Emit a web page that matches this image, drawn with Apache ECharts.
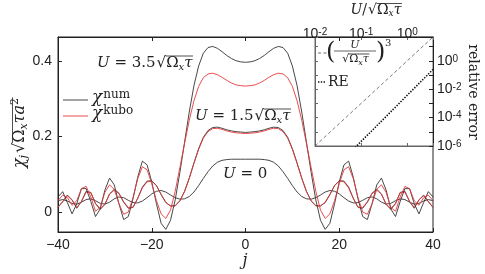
<!DOCTYPE html>
<html><head><meta charset="utf-8">
<script src="https://cdn.jsdelivr.net/npm/echarts@6/dist/echarts.min.js"></script>
<style>html,body{margin:0;padding:0;background:#fff}#c{width:485px;height:274px}</style>
</head><body><div id="c"></div>
<script>
// ---------------- data ----------------
const jValues = [];
for (let j = -40; j <= 40; j++) jValues.push(j);

const chiNumU35 = [0.040,0.054,0.025,-0.005,0.022,0.062,0.062,0.028,-0.012,0.008,
  0.058,0.090,0.072,0.022,-0.020,-0.012,0.035,0.092,0.135,0.125,
  0.080,0.022,-0.030,-0.046,-0.022,0.032,0.105,0.185,0.265,0.335,
  0.387,0.421,0.436,0.439,0.434,0.425,0.415,0.407,0.401,0.398,0.397,
  0.398,0.401,0.407,0.415,0.425,0.434,0.439,0.436,0.421,0.387,
  0.335,0.265,0.185,0.105,0.032,-0.022,-0.046,-0.030,0.022,0.080,
  0.125,0.135,0.092,0.035,-0.012,-0.020,0.022,0.072,0.090,0.058,
  0.008,-0.012,0.028,0.062,0.062,0.022,-0.005,0.025,0.054,0.040];

const chiKuboU35 = [0.030,0.045,0.038,0.018,0.030,0.062,0.068,0.040,0.002,0.012,
  0.052,0.072,0.060,0.022,-0.006,0.000,0.038,0.088,0.120,0.112,
  0.075,0.030,-0.005,-0.017,0.005,0.055,0.118,0.182,0.243,0.295,
  0.333,0.356,0.366,0.368,0.364,0.357,0.349,0.342,0.337,0.335,0.334,
  0.335,0.337,0.342,0.349,0.357,0.364,0.368,0.366,0.356,0.333,
  0.295,0.243,0.182,0.118,0.055,0.005,-0.017,-0.005,0.030,0.075,
  0.112,0.120,0.088,0.038,0.000,-0.006,0.022,0.060,0.072,0.052,
  0.012,0.002,0.040,0.068,0.062,0.030,0.018,0.038,0.045,0.030];

const chiNumU15 = [0.012,0.028,0.045,0.032,0.010,0.028,0.055,0.052,0.022,0.007,
  0.020,0.048,0.060,0.050,0.026,0.010,0.012,0.036,0.066,0.082,
  0.083,0.070,0.046,0.025,0.016,0.017,0.030,0.055,0.090,0.130,
  0.168,0.198,0.216,0.224,0.225,0.222,0.218,0.215,0.213,0.212,0.211,
  0.212,0.213,0.215,0.218,0.222,0.225,0.224,0.216,0.198,0.168,
  0.130,0.090,0.055,0.030,0.017,0.016,0.025,0.046,0.070,0.083,
  0.082,0.066,0.036,0.012,0.010,0.026,0.050,0.060,0.048,0.020,
  0.007,0.022,0.052,0.055,0.028,0.010,0.032,0.045,0.028,0.012];

const chiKuboU15 = [0.013,0.027,0.043,0.032,0.012,0.028,0.053,0.051,0.023,0.009,
  0.021,0.047,0.058,0.049,0.027,0.012,0.013,0.036,0.064,0.080,
  0.082,0.070,0.047,0.026,0.016,0.016,0.029,0.054,0.089,0.129,
  0.166,0.196,0.213,0.221,0.222,0.219,0.215,0.212,0.210,0.209,0.208,
  0.209,0.210,0.212,0.215,0.219,0.222,0.221,0.213,0.196,0.166,
  0.129,0.089,0.054,0.029,0.016,0.016,0.026,0.047,0.070,0.082,
  0.080,0.064,0.036,0.013,0.012,0.027,0.049,0.058,0.047,0.021,
  0.009,0.023,0.051,0.053,0.028,0.012,0.032,0.043,0.027,0.013];

const chiNumU0 = [0.030,0.033,0.029,0.023,0.021,0.026,0.033,0.035,0.030,0.023,
  0.021,0.026,0.035,0.040,0.038,0.031,0.025,0.024,0.029,0.038,
  0.048,0.055,0.057,0.053,0.045,0.038,0.034,0.035,0.041,0.053,
  0.070,0.089,0.107,0.122,0.132,0.137,0.139,0.140,0.140,0.140,0.140,
  0.140,0.140,0.140,0.139,0.137,0.132,0.122,0.107,0.089,0.070,
  0.053,0.041,0.035,0.034,0.038,0.045,0.053,0.057,0.055,0.048,
  0.038,0.029,0.024,0.025,0.031,0.038,0.040,0.035,0.026,0.021,
  0.023,0.030,0.035,0.033,0.026,0.021,0.023,0.029,0.033,0.030];

// inset: relative error vs U/sqrt(Omega_x tau)
const cubeU   = [0.01, 0.03, 0.1, 0.3, 1, 3.6];
const cubeVal = [1e-6, 2.7e-5, 1e-3, 2.7e-2, 1, 46.7];
const reU     = [0.05, 0.1, 0.2, 0.5, 1, 2, 3.6];
const reVal   = [2.1e-7, 2.1e-6, 2.0e-5, 3.9e-4, 3.8e-3, 0.036, 0.245];

const xTickValues = [-40, -20, 0, 20, 40];
const xTickLabels = ['\u221240', '\u221220', '0', '20', '40'];
const yTickLabels = ['0', '0.2', '0.4'];
const legendNames = ['num', 'kubo'];

// ---------------- helpers ----------------
const SERIF = '"DejaVu Serif", serif';
const SANS = '"Liberation Sans", sans-serif';
const INK = '#222';
const BLACK = '#333333';
const RED = '#e5393b';
const cvs = document.createElement('canvas').getContext('2d');
function measure(t, f) { cvs.font = f; return cvs.measureText(t).width; }

function txt(x, y, t, font) {
  return {type: 'text', x: x, y: y, silent: true,
    style: {text: t, font: font, fill: INK, align: 'left', verticalAlign: 'middle',
            textAlign: 'left', textVerticalAlign: 'middle'}};
}

function mathGroup(pieces, opt) {
  let cx = 0; const kids = []; let o0 = null, o1 = 0;
  for (const p of pieces) {
    cx += p.pre || 0;
    const f = (p.it ? 'italic ' : '') + p.s + 'px ' + SERIF;
    const w = measure(p.t, f);
    kids.push(txt(cx, p.dy || 0, p.t, f));
    if (p.ov) { if (o0 === null) o0 = cx; o1 = cx + w; }
    cx += w + (p.post || 0);
  }
  if (o0 !== null) kids.push({type: 'line',
    shape: {x1: o0 - 0.5, y1: opt.ovY, x2: o1 + 0.5, y2: opt.ovY},
    style: {stroke: INK, lineWidth: 0.8}});
  const off = opt.align === 'center' ? -cx / 2 : 0;
  kids.forEach(k => { if (k.type === 'text') k.x += off; else { k.shape.x1 += off; k.shape.x2 += off; } });
  return {type: 'group', x: opt.x, y: opt.y, rotation: opt.rotation || 0, children: kids, silent: true};
}

function sqrtPieces(s, sub) {
  return [
    {t: '\u221A', s: s, pre: 1},
    {t: '\u03A9', s: s, ov: true},
    {t: 'x', s: sub, it: true, dy: 4, ov: true},
    {t: '\u03C4', s: s, it: true, ov: true}
  ];
}

function supLabel(v) {
  const e = Math.round(Math.log10(v));
  if (Math.abs(Math.log10(v) - e) > 1e-6) return '';
  return '{b|10}{s|' + (e < 0 ? '-' + (-e) : e) + '}';
}

// ---------------- series ----------------
function pairs(ys) { return jValues.map((j, i) => [j, ys[i]]); }
function lineSeries(name, ys, color) {
  return {name: name, type: 'line', xAxisIndex: 0, yAxisIndex: 0, data: pairs(ys),
    symbol: 'none', showSymbol: false, smooth: false, animation: false,
    lineStyle: {color: color, width: 0.9}, itemStyle: {color: color}};
}

const series = [
  lineSeries('num', chiNumU0, BLACK),
  lineSeries('num', chiNumU15, BLACK),
  lineSeries('kubo', chiKuboU15, RED),
  lineSeries('num', chiNumU35, BLACK),
  lineSeries('kubo', chiKuboU35, RED),
  {name: 'cube', type: 'line', xAxisIndex: 2, yAxisIndex: 1,
   data: cubeU.map((u, i) => [u, cubeVal[i]]), symbol: 'none', animation: false,
   lineStyle: {color: '#444', width: 0.7, type: [3.5, 2.5]}},
  {name: 'RE', type: 'line', xAxisIndex: 2, yAxisIndex: 1,
   data: reU.map((u, i) => [u, reVal[i]]), symbol: 'none', animation: false,
   lineStyle: {color: '#111', width: 1.6, type: [1.4, 1.4]}}
];

// ---------------- graphics (annotations, legends) ----------------
const graphics = [
  mathGroup([{t: 'U', s: 15, it: true}, {t: ' = 3.5', s: 15}].concat(sqrtPieces(15, 10)),
    {x: 97, y: 63, ovY: -7}),
  mathGroup([{t: 'U', s: 15, it: true}, {t: ' = 1.5', s: 15}].concat(sqrtPieces(15, 10)),
    {x: 195, y: 116, ovY: -7}),
  mathGroup([{t: 'U', s: 15, it: true}, {t: ' = 0', s: 15}], {x: 223, y: 174}),
  // main legend
  {type: 'line', shape: {x1: 63, y1: 100, x2: 88, y2: 100}, style: {stroke: BLACK, lineWidth: 0.9}},
  mathGroup([{t: '\u03C7', s: 17, it: true, dy: -2}, {t: legendNames[0], s: 12, dy: -5, pre: 1}], {x: 92, y: 100}),
  {type: 'line', shape: {x1: 63, y1: 116, x2: 88, y2: 116}, style: {stroke: RED, lineWidth: 0.9}},
  mathGroup([{t: '\u03C7', s: 17, it: true, dy: -2}, {t: legendNames[1], s: 12, dy: -5, pre: 1}], {x: 92, y: 116}),
  // y-axis name
  mathGroup([{t: '\u03C7', s: 16, it: true}, {t: 'j', s: 11, it: true, dy: 4, post: 1},
             {t: '\u221A', s: 16, pre: 1}, {t: '\u03A9', s: 16, ov: true},
             {t: 'x', s: 11, it: true, dy: 4, ov: true}, {t: '\u03C4', s: 16, it: true, ov: true},
             {t: 'a', s: 16, it: true, ov: true}, {t: '2', s: 11, dy: -5, ov: true}],
    {x: 20, y: 133, align: 'center', rotation: Math.PI / 2, ovY: -7.5}),
  // x-axis name
  mathGroup([{t: 'j', s: 16, it: true}], {x: 245, y: 261, align: 'center'}),
  // inset top axis name
  mathGroup([{t: 'U', s: 14, it: true}, {t: '/', s: 14}].concat(sqrtPieces(14, 9)),
    {x: 376, y: 10, align: 'center', ovY: -6.5}),
  // inset right axis name
  mathGroup([{t: 'relative error', s: 14}], {x: 473, y: 92, align: 'center', rotation: -Math.PI / 2}),
  // inset legend: dashed sample + fraction
  {type: 'line', shape: {x1: 318, y1: 53, x2: 327, y2: 53}, style: {stroke: '#444', lineWidth: 0.8, lineDash: [3, 2.5]}},
  txt(326, 53, '(', '24px ' + SERIF),
  txt(376, 53, ')', '24px ' + SERIF),
  txt(385, 43, '3', '10px ' + SERIF),
  mathGroup([{t: 'U', s: 11, it: true}], {x: 355, y: 45, align: 'center'}),
  {type: 'line', shape: {x1: 334, y1: 51, x2: 376, y2: 51}, style: {stroke: INK, lineWidth: 0.7}},
  mathGroup(sqrtPieces(11, 8), {x: 355, y: 59, align: 'center', ovY: -5}),
  // inset legend: dotted sample + RE
  {type: 'line', shape: {x1: 318, y1: 82, x2: 326, y2: 82}, style: {stroke: '#111', lineWidth: 1.6, lineDash: [1.4, 1.4]}},
  mathGroup([{t: 'RE', s: 14}], {x: 328, y: 82})
];

// ---------------- chart ----------------
const chart = echarts.init(document.getElementById('c'), null, {renderer: 'canvas'});
const axisLineStyle = {color: INK, width: 1};
const supRich = {
  b: {fontFamily: SANS, fontSize: 14, color: INK, lineHeight: 14},
  s: {fontFamily: SANS, fontSize: 10, color: INK, verticalAlign: 'top', lineHeight: 14}
};
chart.setOption({
  animation: false,
  backgroundColor: '#fff',
  grid: [
    {left: 58, right: 52, top: 37, bottom: 42, show: true, borderColor: INK, borderWidth: 1},
    {left: 315, right: 52, top: 37, bottom: 128, show: true, borderColor: '#666', borderWidth: 1, backgroundColor: '#fff'}
  ],
  xAxis: [
    {gridIndex: 0, type: 'value', min: -40, max: 40, interval: 20, position: 'bottom',
     axisLine: {show: true, onZero: false, lineStyle: axisLineStyle}, splitLine: {show: false},
     axisTick: {inside: true, length: 4, lineStyle: axisLineStyle},
     axisLabel: {margin: 6, color: INK, fontFamily: SANS, fontSize: 14,
       formatter: v => xTickLabels[xTickValues.indexOf(v)] || ''}},
    {gridIndex: 0, type: 'value', min: -40, max: 40, interval: 20, position: 'top',
     axisLine: {show: true, onZero: false, lineStyle: axisLineStyle}, splitLine: {show: false},
     axisTick: {inside: true, length: 4, lineStyle: axisLineStyle}, axisLabel: {show: false}},
    {gridIndex: 1, type: 'log', logBase: 10, min: 0.01, max: 3.6, position: 'top',
     axisLine: {show: true, onZero: false, lineStyle: {color: INK}}, splitLine: {show: false},
     axisTick: {inside: true, length: 3, lineStyle: {color: '#666'}},
     axisLabel: {margin: -4, formatter: supLabel, rich: supRich}},
    {gridIndex: 1, type: 'log', logBase: 10, min: 0.01, max: 3.6, position: 'bottom',
     axisLine: {show: true, onZero: false, lineStyle: {color: '#666'}}, splitLine: {show: false},
     axisTick: {inside: true, length: 3, lineStyle: {color: '#666'}}, axisLabel: {show: false}}
  ],
  yAxis: [
    {gridIndex: 0, type: 'value', min: -0.053, max: 0.464, splitNumber: 3, position: 'left',
     axisLine: {show: true, onZero: false, lineStyle: axisLineStyle}, splitLine: {show: false},
     axisTick: {inside: true, length: 4, lineStyle: axisLineStyle},
     axisLabel: {margin: 6, color: INK, fontFamily: SANS, fontSize: 14,
       formatter: v => { const k = Math.round(v / 0.2); return Math.abs(v / 0.2 - k) < 1e-6 ? (yTickLabels[k] || '') : ''; }}},
    {gridIndex: 1, type: 'log', logBase: 10, min: 1e-6, max: 47, position: 'right',
     axisLine: {show: true, onZero: false, lineStyle: axisLineStyle}, splitLine: {show: false},
     axisTick: {inside: true, length: 4, lineStyle: axisLineStyle},
     axisLabel: {margin: 4, rich: supRich,
       formatter: v => { const e = Math.round(Math.log10(v)); return (e % 2 === 0) ? supLabel(v) : ''; }}},
    {gridIndex: 1, type: 'log', logBase: 10, min: 1e-6, max: 47, position: 'left',
     axisLine: {show: true, onZero: false, lineStyle: {color: '#666'}}, splitLine: {show: false},
     axisTick: {inside: true, length: 3, lineStyle: {color: '#666'}}, axisLabel: {show: false}}
  ],
  series: series,
  graphic: graphics
});
</script>
</body></html>
